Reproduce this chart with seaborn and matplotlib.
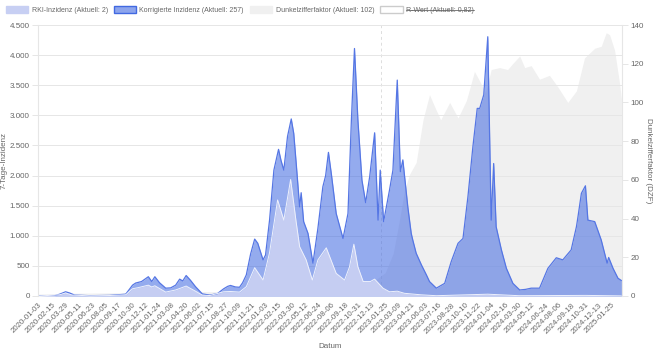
import pandas as pd
import matplotlib.pyplot as plt
from matplotlib.patches import Patch
from matplotlib.lines import Line2D
from matplotlib.ticker import FuncFormatter
import seaborn as sns

# Korrigierte Inzidenz
korr_dates = ["2020-01-03", "2020-02-24", "2020-03-11", "2020-03-30", "2020-04-12", "2020-04-28",
              "2020-06-16", "2020-08-19", "2020-10-10", "2020-11-01", "2020-11-11", "2020-11-30",
              "2020-12-22", "2021-01-02", "2021-01-12", "2021-01-27", "2021-02-16", "2021-03-04",
              "2021-03-20", "2021-04-02", "2021-04-12", "2021-04-23", "2021-05-07", "2021-05-23",
              "2021-06-14", "2021-07-08", "2021-08-02", "2021-08-22", "2021-09-04", "2021-09-13",
              "2021-09-29", "2021-10-12", "2021-10-22", "2021-11-03", "2021-11-17", "2021-11-30",
              "2021-12-10", "2021-12-27", "2022-01-04", "2022-01-17", "2022-01-31", "2022-02-15",
              "2022-02-23", "2022-03-04", "2022-03-16", "2022-03-28", "2022-04-05", "2022-04-13",
              "2022-04-24", "2022-04-29", "2022-05-07", "2022-05-21", "2022-06-06", "2022-06-22",
              "2022-07-08", "2022-07-17", "2022-07-26", "2022-08-05", "2022-08-20", "2022-09-11",
              "2022-09-27", "2022-10-08", "2022-10-18", "2022-10-29", "2022-11-11", "2022-11-23",
              "2022-12-06", "2022-12-22", "2023-01-02", "2023-01-09", "2023-01-20", "2023-02-08",
              "2023-02-19", "2023-03-05", "2023-03-15", "2023-03-23", "2023-04-08", "2023-04-19",
              "2023-04-24", "2023-05-05", "2023-05-22", "2023-06-07", "2023-06-17", "2023-07-09",
              "2023-08-05", "2023-08-26", "2023-09-17", "2023-10-03", "2023-10-19", "2023-11-04",
              "2023-11-18", "2023-11-26", "2023-12-09", "2023-12-22", "2024-01-02", "2024-01-10",
              "2024-01-18", "2024-02-04", "2024-02-20", "2024-03-12", "2024-04-03", "2024-04-22",
              "2024-05-10", "2024-06-06", "2024-07-03", "2024-07-30", "2024-08-20", "2024-09-16",
              "2024-10-03", "2024-10-08", "2024-10-19", "2024-11-01", "2024-11-09", "2024-12-01",
              "2024-12-22", "2025-01-10", "2025-01-15", "2025-01-29", "2025-02-14", "2025-02-25"]
korr_values = [0, 5, 30, 70, 50, 15,
               5, 10, 30, 180, 215, 240,
               320, 240, 320, 220, 130, 135,
               180, 280, 250, 340, 260, 155,
               35, 15, 40, 120, 160, 175,
               150, 145, 220, 350, 700, 945,
               875, 600, 680, 1260, 2090, 2435,
               2250, 2090, 2650, 2940, 2700, 2200,
               1480, 1715, 1235, 1040, 545, 1125,
               1815, 2000, 2385, 2000, 1370, 955,
               1370, 2920, 4110, 2920, 1925, 1550,
               1980, 2710, 1260, 2090, 1235, 1760,
               2090, 3585, 2065, 2260, 1480, 1040,
               930, 710, 515, 350, 240, 130,
               210, 570, 875, 955, 1650, 2480,
               3115, 3115, 3340, 4305, 1260, 2200,
               1150, 765, 460, 210, 100, 110,
               130, 130, 460, 635, 600, 765,
               1150, 1315, 1705, 1830, 1260, 1235,
               930, 545, 640, 460, 295, 257]

# RKI-Inzidenz
rki_dates = ["2020-01-03", "2020-03-11", "2020-03-30", "2020-04-20", "2020-06-16", "2020-08-19",
             "2020-10-10", "2020-11-01", "2020-11-20", "2020-12-22", "2021-01-02", "2021-01-12",
             "2021-02-16", "2021-03-20", "2021-04-23", "2021-05-23", "2021-06-14", "2021-07-08",
             "2021-08-22", "2021-09-13", "2021-10-12", "2021-11-03", "2021-11-30", "2021-12-27",
             "2022-01-17", "2022-02-12", "2022-03-04", "2022-03-26", "2022-04-12", "2022-04-24",
             "2022-05-15", "2022-06-04", "2022-06-22", "2022-07-19", "2022-08-20", "2022-09-16",
             "2022-10-02", "2022-10-16", "2022-10-29", "2022-11-15", "2022-12-08", "2022-12-22",
             "2023-01-18", "2023-02-08", "2023-03-05", "2023-03-28", "2023-05-20", "2023-07-09",
             "2023-12-22", "2024-04-01", "2024-11-01", "2025-02-25"]
rki_values = [0, 20, 50, 15, 3, 8,
              20, 120, 140, 180, 150, 170,
              65, 100, 165, 80, 15, 8,
              70, 75, 65, 155, 470, 265,
              720, 1595, 1260, 1935, 1260, 820,
              600, 265, 600, 800, 375, 265,
              485, 860, 485, 240, 240, 280,
              130, 70, 80, 45, 20, 5,
              30, 5, 10, 2]

# Dunkelzifferfaktor (right axis)
dzf_dates = ["2020-01-03", "2020-03-30", "2020-12-22", "2021-04-23", "2021-06-14", "2021-11-30",
             "2022-02-15", "2022-03-28", "2022-06-06", "2022-07-26", "2022-10-18", "2022-12-22",
             "2023-01-25", "2023-02-20", "2023-03-13", "2023-03-29", "2023-04-14", "2023-05-05",
             "2023-05-27", "2023-06-17", "2023-07-03", "2023-07-23", "2023-08-21", "2023-09-17",
             "2023-10-14", "2023-11-09", "2023-11-26", "2023-12-15", "2024-01-02", "2024-01-29",
             "2024-02-24", "2024-03-11", "2024-04-03", "2024-04-19", "2024-05-10", "2024-06-06",
             "2024-07-08", "2024-08-04", "2024-09-05", "2024-10-03", "2024-10-29", "2024-12-01",
             "2024-12-22", "2025-01-07", "2025-01-18", "2025-02-03", "2025-02-19", "2025-02-25"]
dzf_values = [1.0, 1.4, 1.8, 2.0, 2.3, 2.0,
              1.5, 1.5, 2.0, 3.0, 4.8, 8.0,
              12, 22, 40, 55, 63, 69,
              91, 104, 98, 91, 100, 92,
              101, 116, 111, 105, 117, 118,
              117, 120, 124, 118, 119, 112,
              114, 108, 100, 106, 123, 128,
              129, 136, 135, 127, 110, 102]

marker_date = "2023-01-10"
tick_start, tick_end = "2020-01-03", "2025-01-25"

legend_labels = ["RKI-Inzidenz (Aktuell: 2)", "Korrigierte Inzidenz (Aktuell: 257)",
                 "Dunkelzifferfaktor (Aktuell: 102)", "R-Wert (Aktuell: 0,82)"]

sns.set_style("white")
plt.rcParams["font.family"] = ["Liberation Sans", "DejaVu Sans"]
txt = "#666666"
grid = "#e6e6e6"

korr = pd.DataFrame({"Datum": pd.to_datetime(korr_dates), "Wert": korr_values})
rki = pd.DataFrame({"Datum": pd.to_datetime(rki_dates), "Wert": rki_values})
dzf = pd.DataFrame({"Datum": pd.to_datetime(dzf_dates), "Wert": dzf_values})

fig = plt.figure(figsize=(6.55, 3.51), dpi=100)
ax = fig.add_axes([38 / 655, 1 - 296 / 351, 584 / 655, 271 / 351])
ax2 = ax.twinx()
ax.set_zorder(ax2.get_zorder() + 1)
ax.patch.set_visible(False)

# DZF behind everything
ax2.fill_between(dzf["Datum"], dzf["Wert"], color="#f0f0f0", lw=0)
ax2.set_ylim(0, 140)
ax2.set_yticks(range(0, 141, 20))

ax.fill_between(korr["Datum"], korr["Wert"], color="#4169e1", alpha=0.56, lw=0)
sns.lineplot(data=korr, x="Datum", y="Wert", ax=ax, color="#5576e4", linewidth=0.9)
ax.fill_between(rki["Datum"], rki["Wert"], color="#c7cff3", alpha=0.97, lw=0)
sns.lineplot(data=rki, x="Datum", y="Wert", ax=ax, color="#eef1fc", linewidth=0.7)

ax.axvline(pd.Timestamp(marker_date), color="#dddddd", lw=0.7, ls=(0, (3, 3)), zorder=0.5)

ax.set_ylim(0, 4500)
ax.set_yticks(range(0, 4501, 500))
ax.yaxis.set_major_formatter(FuncFormatter(lambda v, p: f"{int(v):,}".replace(",", ".")))
ax.set_xlim(pd.Timestamp("2020-01-01"), pd.Timestamp("2025-02-27"))
ticks = pd.date_range(tick_start, tick_end, freq="43D")
ax.set_xticks(ticks)
ax.set_xticklabels([t.strftime("%Y-%m-%d") for t in ticks], rotation=45, ha="right",
                   rotation_mode="anchor")
ax.grid(axis="y", color=grid, lw=0.7)
ax.grid(axis="x", visible=False)

for a in (ax, ax2):
    for s in a.spines.values():
        s.set_visible(False)
ax.spines["left"].set_visible(True)
ax.spines["left"].set_color(grid)
ax2.spines["right"].set_visible(True)
ax2.spines["right"].set_color(grid)

ax.tick_params(axis="y", colors=grid, labelcolor=txt, labelsize=5.8, length=4, width=0.7, pad=2)
ax.tick_params(axis="x", colors=grid, labelcolor=txt, labelsize=5.7, length=0, pad=4)
ax2.tick_params(axis="y", colors=grid, labelcolor=txt, labelsize=5.8, length=4, width=0.7, pad=2)

ax.set_xlabel("Datum", color=txt, fontsize=5.8)
ax.set_ylabel("7-Tage-Inzidenz", color=txt, fontsize=5.8)
ax2.set_ylabel("Dunkelzifferfaktor (DZF)", color=txt, fontsize=5.8, rotation=270, va="center")
ax.xaxis.set_label_coords(0.5, -0.175)
ax.yaxis.set_label_coords(-0.052, 0.5)
ax2.yaxis.set_label_coords(1.046, 0.5)

handles = [Patch(facecolor="#c7cff3", edgecolor="#c7cff3"),
           Patch(facecolor="#8da5ed", edgecolor="#4169e1"),
           Patch(facecolor="#f0f0f0", edgecolor="#f0f0f0"),
           Patch(facecolor="white", edgecolor="#cccccc")]
leg = fig.legend(handles, legend_labels, loc="upper left", bbox_to_anchor=(0.0, 1.0), ncol=4,
                 frameon=False, fontsize=5.0, handlelength=3.2, handleheight=1.1,
                 handletextpad=0.45, columnspacing=0.9, labelcolor=txt)

fig.canvas.draw()
bb = leg.get_texts()[3].get_window_extent().transformed(fig.transFigure.inverted())
ymid = (bb.y0 + bb.y1) / 2
fig.add_artist(Line2D([bb.x0, bb.x1], [ymid, ymid], color=txt, lw=0.6, transform=fig.transFigure))

fig.savefig("out.png", dpi=100)
